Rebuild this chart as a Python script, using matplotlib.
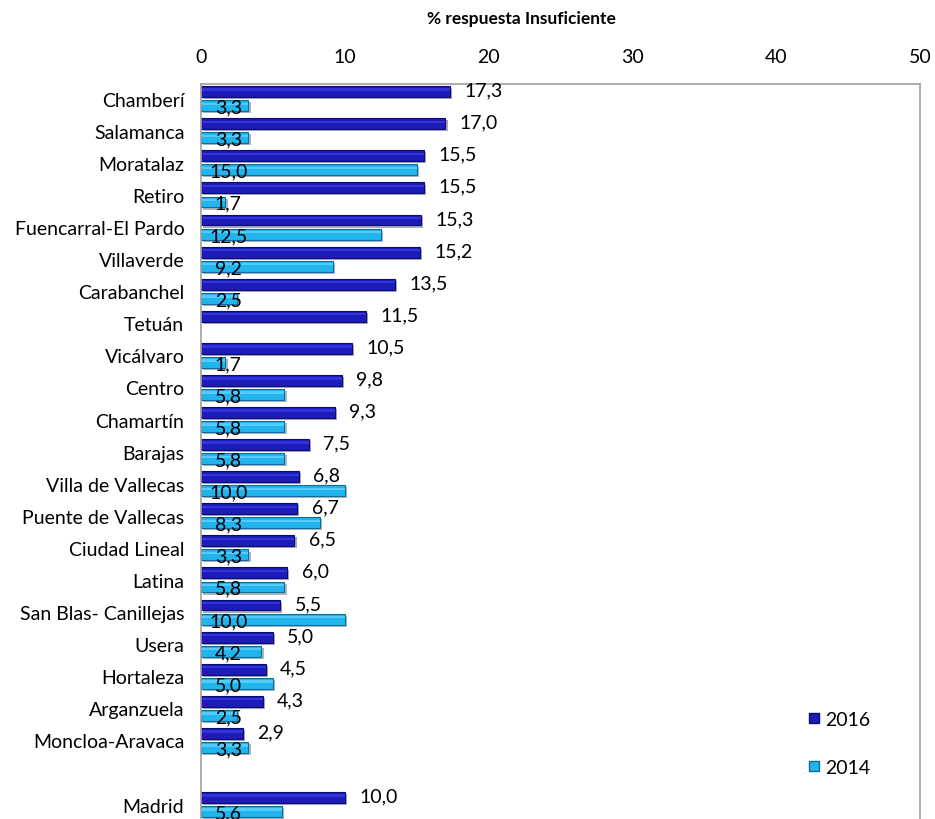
import numpy as np
import matplotlib
matplotlib.use("Agg")
import matplotlib.pyplot as plt
import matplotlib.patheffects as pe
from matplotlib.lines import Line2D

plt.rcParams['font.family'] = ['Lato', 'DejaVu Sans']

categories = ["Chamberí", "Salamanca", "Moratalaz", "Retiro", "Fuencarral-El Pardo",
              "Villaverde", "Carabanchel", "Tetuán", "Vicálvaro", "Centro", "Chamartín",
              "Barajas", "Villa de Vallecas", "Puente de Vallecas", "Ciudad Lineal",
              "Latina", "San Blas- Canillejas", "Usera", "Hortaleza", "Arganzuela",
              "Moncloa-Aravaca", "Madrid"]
values_2016 = [17.3, 17.0, 15.5, 15.5, 15.3, 15.2, 13.5, 11.5, 10.5, 9.8, 9.3,
               7.5, 6.8, 6.7, 6.5, 6.0, 5.5, 5.0, 4.5, 4.3, 2.9, 10.0]
values_2014 = [3.3, 3.3, 15.0, 1.7, 12.5, 9.2, 2.5, np.nan, 1.7, 5.8, 5.8,
               5.8, 10.0, 8.3, 3.3, 5.8, 10.0, 4.2, 5.0, 2.5, 3.3, 5.6]
series_names = ["2016", "2014"]
x_ticks = [0, 10, 20, 30, 40, 50]
x_title = "% respuesta Insuficiente"

c2016 = "#1c1cb8"
c2016_edge = "#0c0c70"
c2014 = "#22b4ec"
c2014_edge = "#0d6f9a"

fig = plt.figure(figsize=(9.35, 8.2), dpi=100)
ax = fig.add_axes([0.215, 0.0, 0.769, 0.896])

pos = np.arange(len(categories), dtype=float)
pos[-1] += 1  # gap before Madrid

h = 0.34
off = 0.22
shadow = [pe.SimplePatchShadow(offset=(1.5, -1.5), alpha=0.35), pe.Normal()]

v16 = np.array(values_2016, dtype=float)
v14 = np.array(values_2014, dtype=float)

b16 = ax.barh(pos - off, v16, height=h, color=c2016, edgecolor=c2016_edge, linewidth=0.8)
m14 = ~np.isnan(v14)
b14 = ax.barh(pos[m14] + off, v14[m14], height=h, color=c2014, edgecolor=c2014_edge, linewidth=0.8)
for b in list(b16) + list(b14):
    b.set_path_effects(shadow)

# highlight stripes for a glossy look
ax.barh(pos - off - h * 0.18, v16, height=h * 0.22, color="#3a3ae6", linewidth=0, alpha=0.8)
ax.barh(pos[m14] + off - h * 0.18, v14[m14], height=h * 0.22, color="#5fd4ff", linewidth=0, alpha=0.8)

fs = 14
def fmt(v):
    return f"{v:.1f}".replace(".", ",")

for p, v in zip(pos, v16):
    ax.text(v + 1.0, p - off - 0.05, fmt(v), ha="left", va="center", fontsize=fs, color="black")
for p, v in zip(pos, v14):
    if not np.isnan(v):
        ax.text(1.9, p + off + 0.04, fmt(v), ha="center", va="center", fontsize=fs, color="black")

ax.set_xlim(0, 50)
ax.set_ylim(pos[-1] + 0.45, -0.45)
ax.set_yticks(pos)
ax.set_yticklabels(categories, fontsize=fs)
ax.set_xticks(x_ticks)
ax.set_xticklabels([str(t) for t in x_ticks], fontsize=fs)
ax.xaxis.tick_top()
ax.tick_params(axis="y", length=0, pad=12)
ax.tick_params(axis="x", length=0, pad=14)
ax.text(0.446, 1.0 + 66 / 735, x_title, transform=ax.transAxes, ha="center", va="center",
        fontsize=12.5, fontweight="bold")

for s in ["top", "left", "right"]:
    ax.spines[s].set_color("#a0a0a0")
    ax.spines[s].set_linewidth(1.2)
ax.spines["bottom"].set_visible(False)

handles = [Line2D([], [], marker="s", linestyle="none", markersize=7,
                  markerfacecolor=c2016, markeredgecolor=c2016_edge),
           Line2D([], [], marker="s", linestyle="none", markersize=7,
                  markerfacecolor=c2014, markeredgecolor=c2014_edge)]
ax.legend(handles, series_names, loc="lower left", bbox_to_anchor=(0.815, 0.035),
          frameon=False, fontsize=fs, labelspacing=1.6, handletextpad=0.05,
          handlelength=1.0)

fig.savefig("out.png", dpi=100)
